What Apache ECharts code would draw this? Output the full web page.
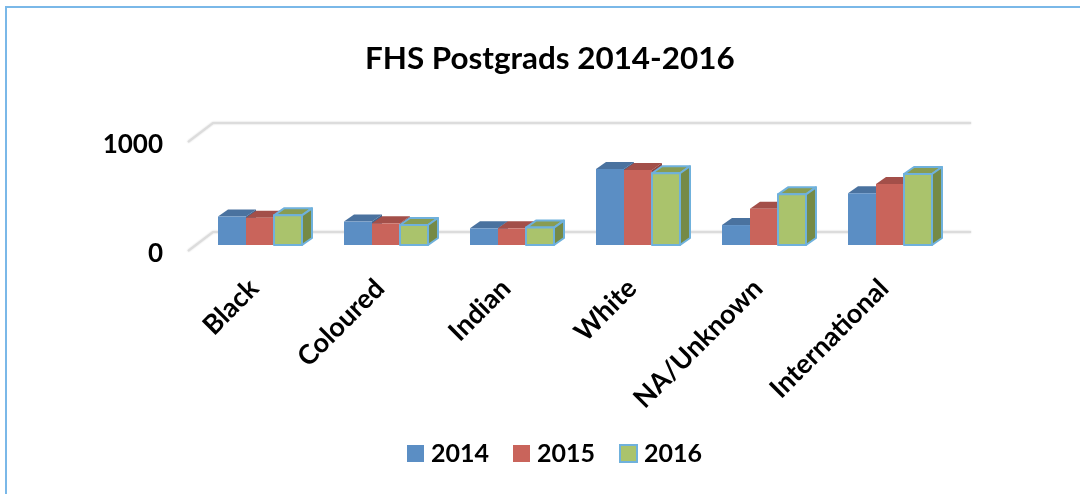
<!DOCTYPE html>
<html><head><meta charset="utf-8">
<style>html,body{margin:0;padding:0;background:#fff}#c{width:1080px;height:494px}</style>
<script src="https://cdn.jsdelivr.net/npm/echarts@6/dist/echarts.min.js"></script>
</head><body><div id="c"></div>
<script>
const categories = ['Black','Coloured','Indian','White','NA/Unknown','International'];
const years = ['2014','2015','2016'];
const values2014 = [261,215,153,697,183,474];
const values2015 = [250,199,153,688,333,560];
const values2016 = [272,183,160,658,465,651];
const font = 'Lato';
const palette = [
  {front:'#5b8ec4',top:'#4a729f',side:'#3f6590',border:null},
  {front:'#c9645b',top:'#a34f49',side:'#8f4540',border:null},
  {front:'#aac36c',top:'#889c52',side:'#758a46',border:'#6fb1dc'}
];
const barW = 28, depthX = 10, depthY = 7, frontDX = -36, frontDY = -9;
function barSeries(name, data, idx){
  const p = palette[idx];
  return {
    name, type:'custom', coordinateSystem:'cartesian2d', z:3+idx,
    itemStyle:{color:p.front, borderColor:p.border||p.front, borderWidth:p.border?2:0},
    encode:{x:0,y:1},
    data:data.map((v,i)=>[categories[i],v]),
    renderItem(params, api){
      const c = api.coord([api.value(0), api.value(1)]);
      const b = api.coord([api.value(0), 0]);
      const x = c[0] + frontDX + idx*barW, yT = c[1] + frontDY, yB = b[1] + frontDY;
      const stroke = p.border ? {stroke:p.border, lineWidth:2, lineJoin:'round'} : {};
      return {type:'group', children:[
        {type:'polygon', shape:{points:[[x,yT],[x+depthX,yT-depthY],[x+barW+depthX,yT-depthY],[x+barW,yT]]}, style:Object.assign({fill:p.top},stroke)},
        {type:'polygon', shape:{points:[[x+barW,yT],[x+barW+depthX,yT-depthY],[x+barW+depthX,yB-depthY],[x+barW,yB]]}, style:Object.assign({fill:p.side},stroke)},
        {type:'rect', shape:{x,y:yT,width:barW,height:yB-yT}, style:Object.assign({fill:p.front},stroke)}
      ]};
    }
  };
}
const wallTicks = [0,1000];
const wall = {
  type:'custom', coordinateSystem:'cartesian2d', z:1, silent:true, legendHoverLink:false,
  data:wallTicks.map(v=>[categories[0],v]),
  encode:{y:1},
  renderItem(params, api){
    const y = api.coord([categories[0], api.value(1)])[1] - 3;
    const s = params.coordSys, x0 = s.x - 3, dx=25, dy=-19;
    const style = {stroke:'#dcdcdc', lineWidth:2, fill:'none', lineJoin:'round', shadowBlur:2, shadowColor:'rgba(0,0,0,0.2)'};
    return {type:'polyline', shape:{points:[[x0,y],[x0+dx,y+dy],[x0+s.width+dx+2,y+dy]]}, style};
  }
};
const chart = echarts.init(document.getElementById('c'), null, {renderer:'canvas'});
chart.setOption({
  animation:false,
  backgroundColor:'#fff',
  title:{text:'FHS Postgrads 2014-2016', left:360, top:38,
    textStyle:{fontFamily:font, fontWeight:'bold', fontSize:31.4, color:'#000'}},
  grid:{left:191, top:145, width:756, height:109},
  xAxis:{type:'category', data:categories, axisLine:{show:false}, axisTick:{show:false},
    axisLabel:{rotate:45, margin:30, interval:0, fontFamily:font, fontWeight:'bold', fontSize:27, color:'#000'}},
  yAxis:{type:'value', min:0, max:1000, interval:1000, axisLine:{show:false}, axisTick:{show:false}, splitLine:{show:false},
    axisLabel:{margin:28, formatter:v=>String(v), fontFamily:font, fontWeight:'bold', fontSize:26, color:'#000'}},
  legend:{data:years, left:402, top:436, itemWidth:17, itemHeight:17, itemGap:24, icon:'rect',
    textStyle:{fontFamily:font, fontWeight:'bold', fontSize:25, color:'#000', padding:[0,0,0,2]}},
  graphic:[
    {type:'polyline', silent:true, shape:{points:[[6,494],[6,7],[1080,7]]}, style:{stroke:'#7ab8e8', lineWidth:2, fill:'none'}}
  ],
  series:[wall, barSeries(years[0],values2014,0), barSeries(years[1],values2015,1), barSeries(years[2],values2016,2)]
});
</script></body></html>
